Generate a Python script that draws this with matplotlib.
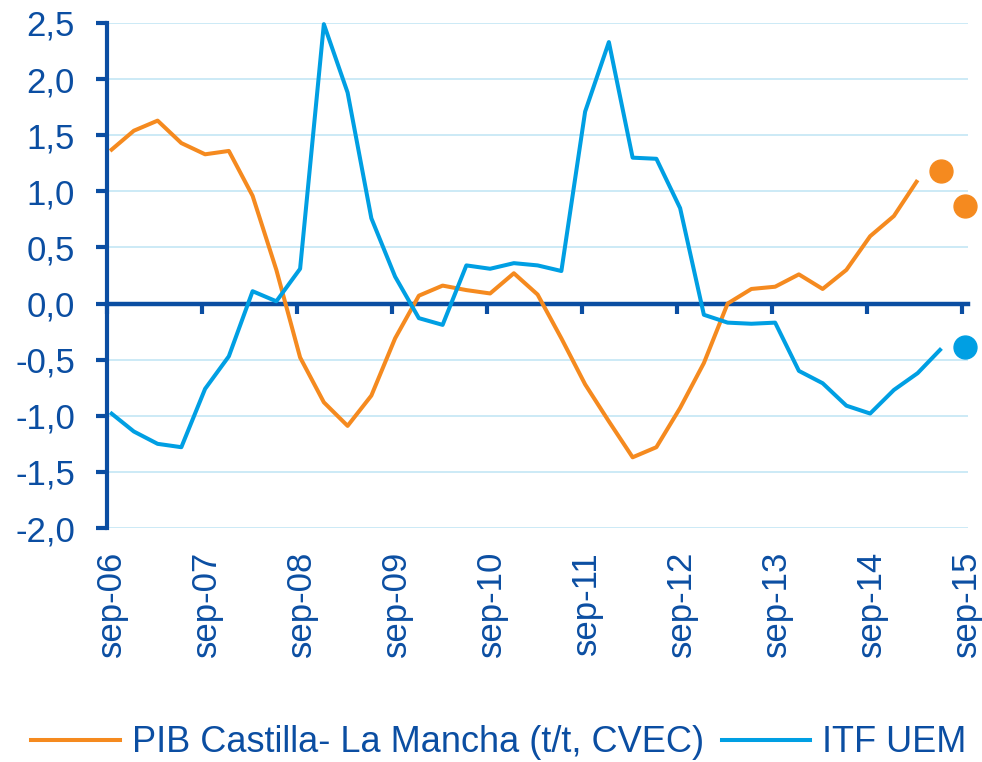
import matplotlib
matplotlib.use('Agg')
import matplotlib.pyplot as plt
from matplotlib.lines import Line2D
import matplotlib.transforms as mtransforms

plt.rcParams['font.family'] = ['Liberation Sans', 'DejaVu Sans']

# quarterly data, sep-06 .. sep-15
pib = [1.36, 1.54, 1.63, 1.43, 1.33, 1.36, 0.96, 0.30, -0.48, -0.88, -1.09, -0.82,
       -0.31, 0.07, 0.16, 0.12, 0.09, 0.27, 0.08, -0.31, -0.72, -1.05, -1.37, -1.28,
       -0.93, -0.53, 0.00, 0.13, 0.15, 0.26, 0.13, 0.30, 0.60, 0.78, 1.10]
pib_prev = [1.18, 0.87]
itf = [-0.97, -1.14, -1.25, -1.28, -0.76, -0.47, 0.11, 0.02, 0.31, 2.49, 1.88, 0.76,
       0.24, -0.13, -0.19, 0.34, 0.31, 0.36, 0.34, 0.29, 1.71, 2.33, 1.30, 1.29,
       0.85, -0.10, -0.17, -0.18, -0.17, -0.60, -0.71, -0.91, -0.98, -0.77, -0.62, -0.40]
itf_prev = [-0.39]
xlabels = ['sep-06', 'sep-07', 'sep-08', 'sep-09', 'sep-10', 'sep-11', 'sep-12', 'sep-13',
           'sep-14', 'sep-15']
yticks = [-2.0, -1.5, -1.0, -0.5, 0.0, 0.5, 1.0, 1.5, 2.0, 2.5]
ylabels = ['-2,0', '-1,5', '-1,0', '-0,5', '0,0', '0,5', '1,0', '1,5', '2,0', '2,5']

ORANGE = '#F58A1F'
BLUE = '#009FE3'
NAVY = '#0B4EA2'
GRID = '#C8E8F6'

shift = 0.13  # data sit a bit right of the yearly ticks
x_pib = [i + shift for i in range(len(pib))]
x_pib_prev = [len(pib) + k + shift for k in range(len(pib_prev))]
x_itf = [i + shift for i in range(len(itf))]
x_itf_prev = [len(itf) + k + shift for k in range(len(itf_prev))]

fig = plt.figure(figsize=(9.82, 7.62), dpi=100)
ax = fig.add_axes([107 / 982, 1 - 528 / 762, (968 - 107) / 982, (528 - 23) / 762])

ax.set_ylim(-2.0, 2.5)
ax.set_xlim(0, 36.25)
ax.set_yticks(yticks)
ax.set_yticklabels(ylabels)
for y in yticks:
    if y != 0:
        ax.axhline(y, color=GRID, lw=1.3, zorder=1)

ax.plot(x_pib, pib, color=ORANGE, lw=2.9, zorder=3, clip_on=False, solid_capstyle='butt')
ax.plot(x_itf, itf, color=BLUE, lw=2.9, zorder=3, clip_on=False, solid_capstyle='butt')
ax.plot(x_pib_prev, pib_prev, 'o', color=ORANGE, ms=16.5, zorder=4, clip_on=False)
ax.plot(x_itf_prev, itf_prev, 'o', color=BLUE, ms=16.5, zorder=4, clip_on=False)

for s in ['top', 'right']:
    ax.spines[s].set_visible(False)
ax.spines['left'].set_color(NAVY)
ax.spines['left'].set_linewidth(3)
ax.spines['bottom'].set_position(('data', 0))
ax.spines['bottom'].set_color(NAVY)
ax.spines['bottom'].set_linewidth(3.2)
ax.spines['bottom'].set_zorder(2)

tick_pos = list(range(0, 37, 4))
ax.set_xticks(tick_pos)
ax.tick_params(axis='x', direction='out', length=7, width=3, color=NAVY, labelbottom=False)
ax.tick_params(axis='y', direction='out', length=8, width=3, color=NAVY,
               labelcolor=NAVY, labelsize=25, pad=15)

# category labels below the plot area
off = mtransforms.ScaledTranslation(4 / 100, -23 / 100, fig.dpi_scale_trans)
trans = mtransforms.blended_transform_factory(ax.transData, ax.transAxes) + off
for p, lab in zip(tick_pos, xlabels):
    ax.text(p, 0, lab, transform=trans, rotation=90, ha='center', va='top',
            fontsize=25, color=NAVY)

handles = [Line2D([], [], color=ORANGE, lw=2.9),
           Line2D([], [], color=BLUE, lw=2.9)]
leg = fig.legend(handles, ['PIB Castilla- La Mancha (t/t, CVEC)', 'ITF UEM'],
                 loc='center', bbox_to_anchor=(0.508, 19 / 762), ncol=2, frameon=False,
                 fontsize=26, handlelength=2.45, handletextpad=0.33, columnspacing=0.5,
                 borderaxespad=0)
for t in leg.get_texts():
    t.set_color(NAVY)

fig.savefig('out.png', dpi=100)
